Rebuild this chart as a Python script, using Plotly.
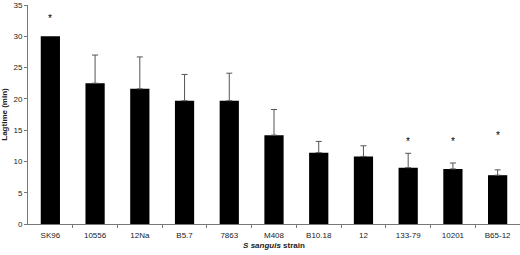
import plotly.graph_objects as go

strains = ["SK96", "10556", "12Na", "B5.7", "7863", "M408", "B10.18", "12", "133-79", "10201", "B65-12"]
lagtime = [30.0, 22.5, 21.6, 19.7, 19.7, 14.2, 11.4, 10.8, 9.0, 8.8, 7.8]
sd_upper = [None, 4.5, 5.1, 4.2, 4.4, 4.1, 1.8, 1.7, 2.3, 0.95, 0.85]
significant = [True, False, False, False, False, False, False, False, True, True, True]
star_height = [32.9, None, None, None, None, None, None, None, 13.2, 13.2, 14.1]

FONT = "Liberation Sans, Arial, sans-serif"

idx = list(range(len(strains)))
with_err = [i for i in idx if sd_upper[i] is not None]
no_err = [i for i in idx if sd_upper[i] is None]

fig = go.Figure()
fig.add_trace(go.Bar(
    x=with_err, y=[lagtime[i] for i in with_err], width=0.43,
    marker=dict(color="black", line=dict(width=0)),
    error_y=dict(type="data", symmetric=False, array=[sd_upper[i] for i in with_err],
                 arrayminus=[0] * len(with_err), color="#555555", thickness=1, width=3),
))
fig.add_trace(go.Bar(
    x=no_err, y=[lagtime[i] for i in no_err], width=0.43,
    marker=dict(color="black", line=dict(width=0)),
))

for i, (sig, h) in enumerate(zip(significant, star_height)):
    if sig:
        fig.add_annotation(x=i, y=h, text="*", showarrow=False, yanchor="middle",
                           font=dict(family=FONT, size=10, color="#000000"))

fig.update_layout(
    width=520, height=255,
    margin=dict(l=28, r=0, t=5, b=31),
    paper_bgcolor="white", plot_bgcolor="white",
    showlegend=False, barmode="overlay",
    font=dict(family=FONT, size=8, color="#222222"),
)
fig.update_xaxes(
    range=[-0.5, 10.5], automargin=False,
    tickmode="array", tickvals=idx, ticktext=strains,
    showline=True, linecolor="#777777", linewidth=1,
    ticks="", showgrid=False, zeroline=False,
    minor=dict(tickmode="array", tickvals=[i + 0.5 for i in idx],
               ticks="outside", ticklen=3, tickcolor="#777777"),
    tickfont=dict(size=8), ticklabelstandoff=3,
    title=dict(text="<b><i>S sanguis</i> strain</b>", font=dict(size=8), standoff=3),
)
fig.update_yaxes(
    range=[0, 35], dtick=5, automargin=False,
    showline=True, linecolor="#777777", linewidth=1,
    ticks="outside", ticklen=3, tickcolor="#777777",
    tickfont=dict(size=8), showgrid=False, zeroline=False,
    title=dict(text="<b>Lagtime (min)</b>", font=dict(size=8)),
)

fig.write_html("out.html", config={"displayModeBar": False},
               post_script="document.body.style.margin='0px';")
